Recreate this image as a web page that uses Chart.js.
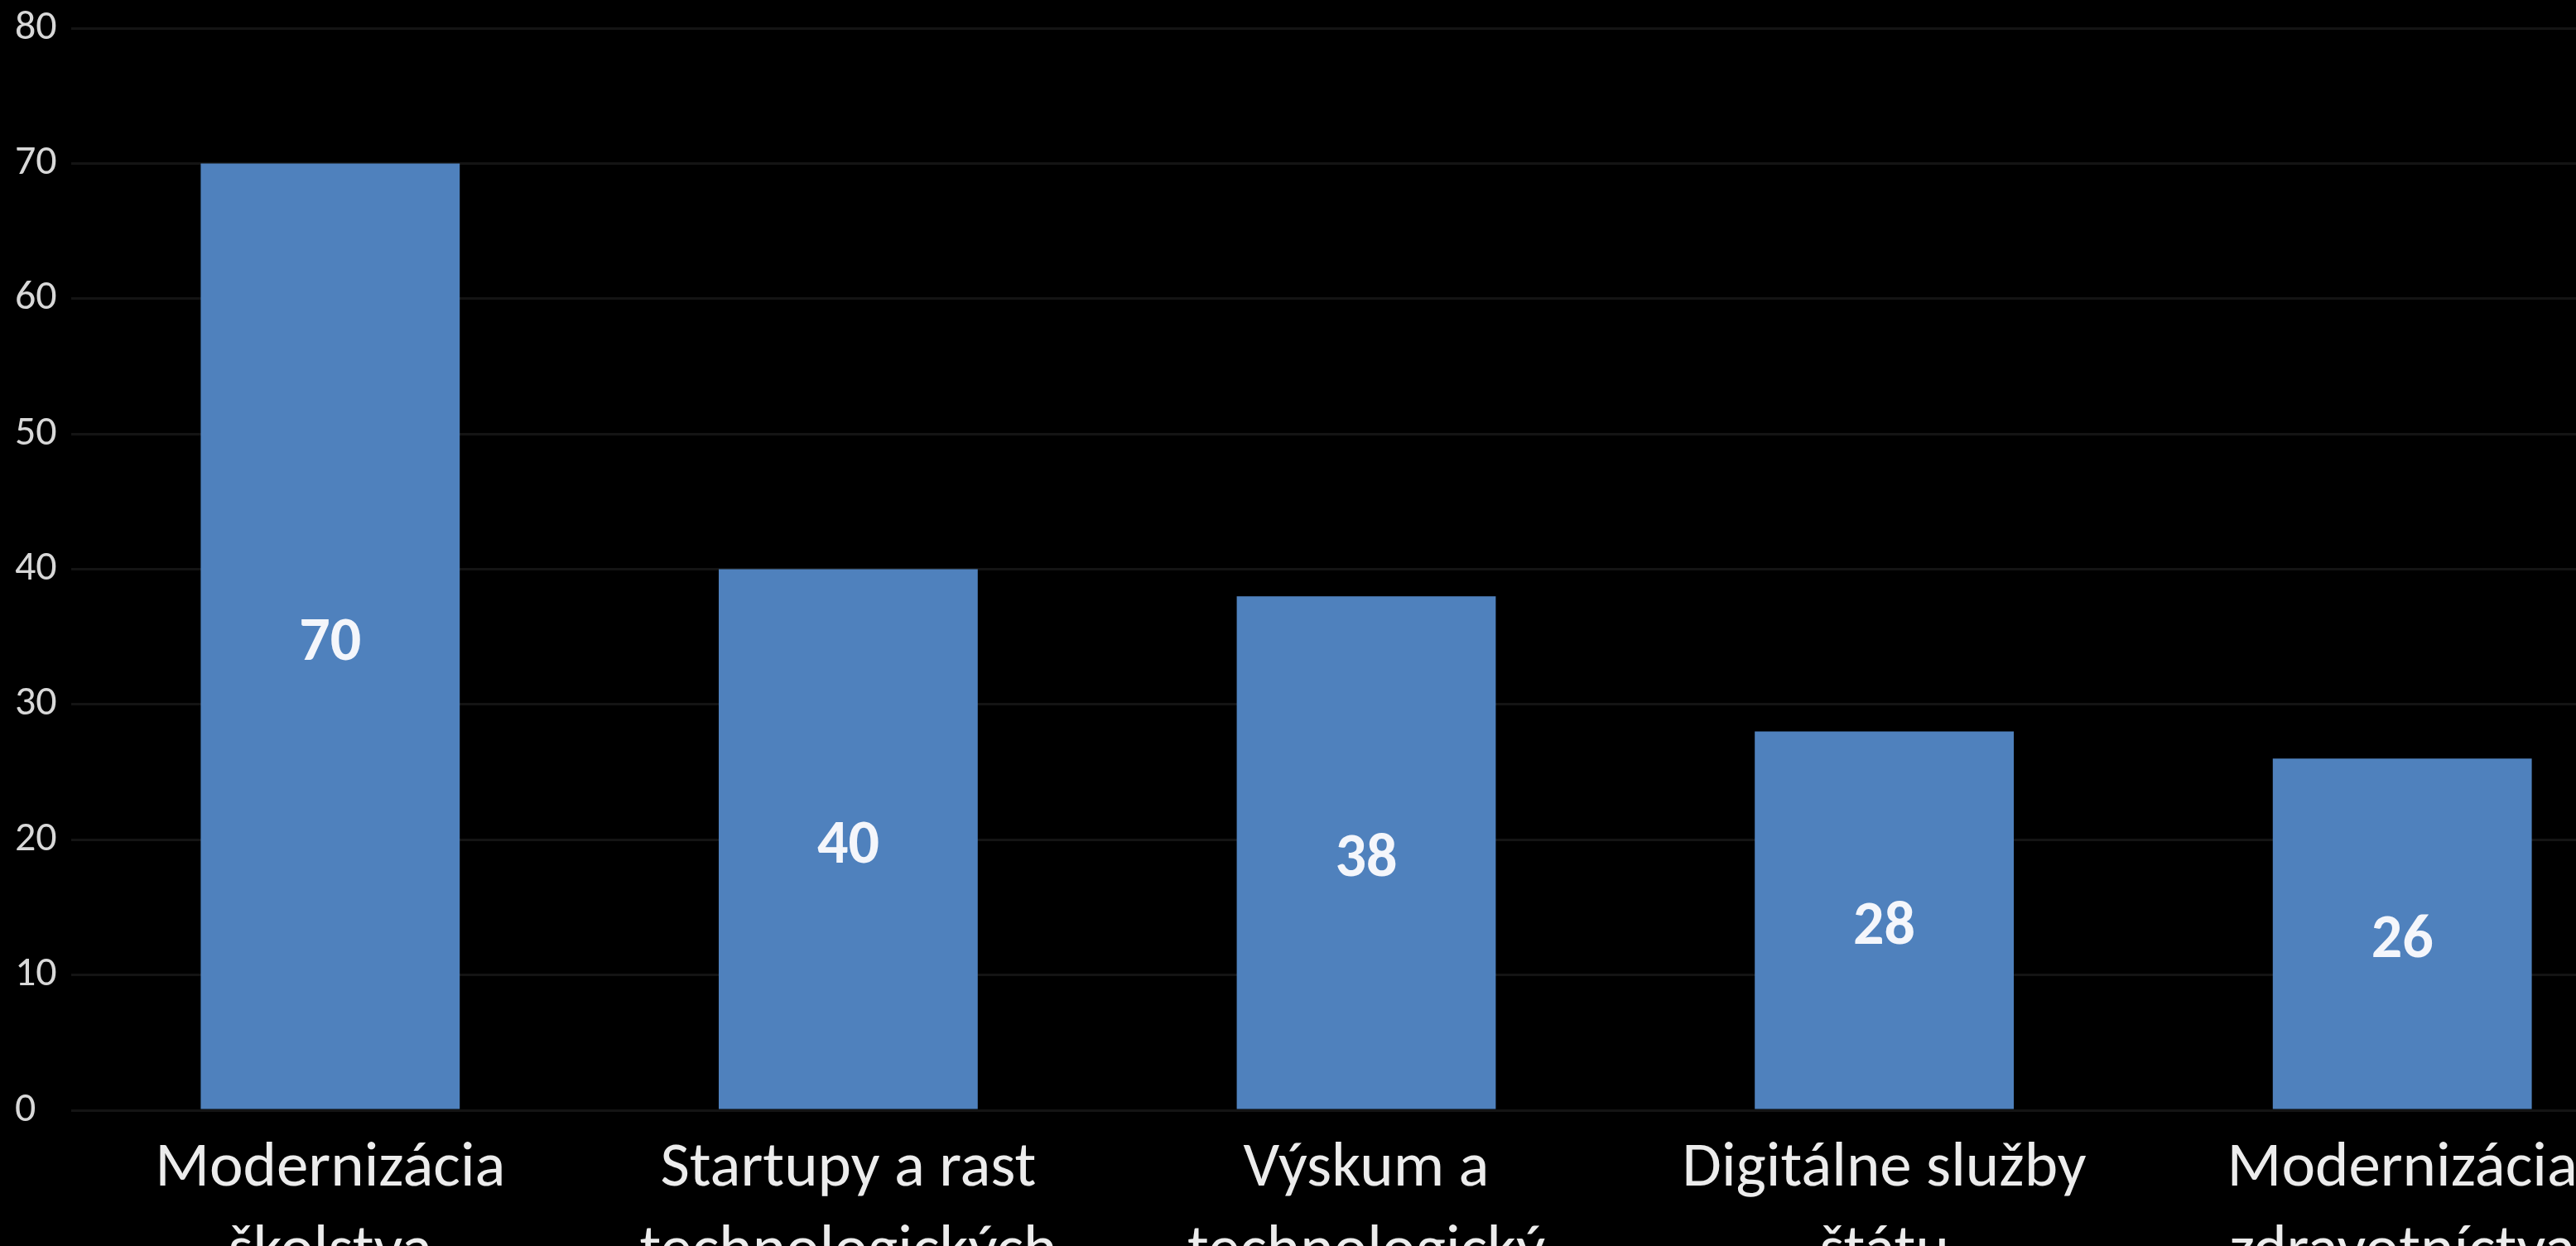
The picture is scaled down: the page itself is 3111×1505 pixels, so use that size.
<!DOCTYPE html>
<html>
<head>
<meta charset="utf-8">
<title>Investície</title>
<script src="https://cdn.jsdelivr.net/npm/chart.js@4.4.1/dist/chart.umd.min.js"></script>
<style>
  html, body { margin: 0; padding: 0; background: #000; overflow: hidden; }
  #wrap { position: absolute; left: 0; top: 0; width: 3230px; height: 1600px; }
</style>
</head>
<body>
<div id="wrap"><canvas id="chart" width="3230" height="1600"></canvas></div>
<script>
const categories = [
  ["Modernizácia", "školstva"],
  ["Startupy a rast", "technologických"],
  ["Výskum a", "technologický"],
  ["Digitálne služby", "štátu"],
  ["Modernizácia", "zdravotníctva"]
];
const values = [70, 40, 38, 28, 26];
const yTicks = [0, 10, 20, 30, 40, 50, 60, 70, 80];

const fontFamily = "Carlito, Lato, 'Open Sans', sans-serif";

// draws the value in the middle of each bar
const barLabels = {
  id: 'barLabels',
  afterDatasetsDraw(chart) {
    const ctx = chart.ctx;
    const meta = chart.getDatasetMeta(0);
    ctx.save();
    ctx.fillStyle = '#f4f6fb';
    ctx.font = '600 74px ' + fontFamily;
    ctx.textAlign = 'center';
    ctx.textBaseline = 'middle';
    meta.data.forEach((bar, i) => {
      const mid = (bar.y + bar.base) / 2;
      ctx.fillText(String(values[i]), bar.x, mid + 10);
    });
    ctx.restore();
  }
};

const ctx = document.getElementById("chart").getContext("2d");

new Chart(ctx, {
  type: 'bar',
  data: {
    labels: categories,
    datasets: [{
      data: values,
      backgroundColor: '#4f81bd',
      borderWidth: 0,
      categoryPercentage: 1,
      barPercentage: 0.5
    }]
  },
  options: {
    responsive: false,
    animation: false,
    devicePixelRatio: 1,
    layout: { padding: { left: 18, right: 16, top: 34, bottom: 0 } },
    plugins: {
      legend: { display: false },
      tooltip: { enabled: false }
    },
    scales: {
      x: {
        grid: { display: false, drawTicks: false },
        border: { display: false },
        ticks: {
          color: '#ececec',
          font: { family: fontFamily, size: 77, lineHeight: 1.3 },
          padding: 22,
          maxRotation: 0,
          autoSkip: false
        },
        afterFit(scale) { scale.height = 1600 - 1341; }
      },
      y: {
        min: 0,
        max: 80,
        afterBuildTicks(scale) { scale.ticks = yTicks.map(v => ({ value: v })); },
        grid: { color: '#141414', lineWidth: 3, drawTicks: false },
        border: { display: false },
        ticks: {
          color: '#d8d8d8',
          font: { family: fontFamily, size: 50 },
          crossAlign: 'far',
          padding: 0
        },
        afterFit(scale) { scale.width = 68; }
      }
    }
  },
  plugins: [barLabels]
});
</script>
</body>
</html>
